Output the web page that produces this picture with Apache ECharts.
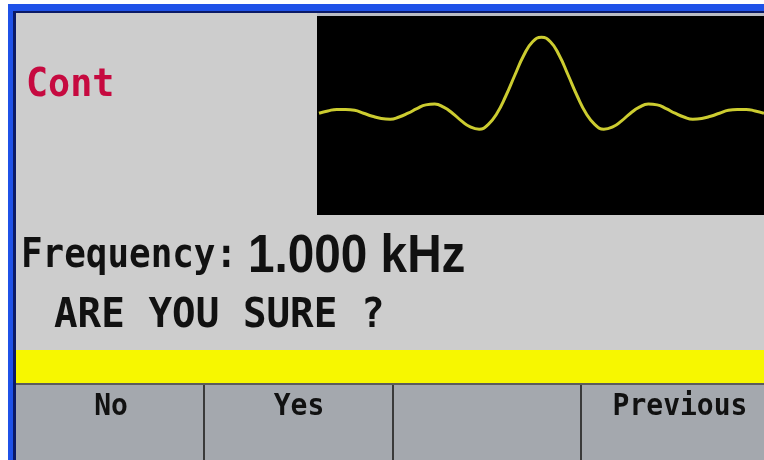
<!DOCTYPE html>
<html>
<head>
<meta charset="utf-8">
<script src="https://cdn.jsdelivr.net/npm/echarts@6/dist/echarts.min.js"></script>
<style>html,body{margin:0;padding:0;background:#fff}#c{width:764px;height:460px}</style>
</head>
<body>
<div id="c"></div>
<script>
// Waveform samples read from the scope display (time in arbitrary units, amplitude normalized)
const timeValues = [-5.0,-4.8,-4.6,-4.4,-4.2,-4.0,-3.8,-3.6,-3.4,-3.2,-3.0,-2.8,-2.6,-2.4,-2.2,-2.0,-1.8,-1.6,-1.4,-1.2,-1.0,-0.8,-0.6,-0.4,-0.2,0.0,0.2,0.4,0.6,0.8,1.0,1.2,1.4,1.6,1.8,2.0,2.2,2.4,2.6,2.8,3.0,3.2,3.4,3.6,3.8,4.0,4.2,4.4,4.6,4.8,5.0];
const amplitudeValues = [0.00,0.03,0.05,0.05,0.04,0.00,-0.04,-0.07,-0.08,-0.05,0.00,0.06,0.11,0.12,0.08,0.00,-0.10,-0.18,-0.21,-0.15,0.00,0.23,0.50,0.76,0.94,1.00,0.94,0.76,0.50,0.23,0.00,-0.15,-0.21,-0.18,-0.10,0.00,0.08,0.12,0.11,0.06,0.00,-0.05,-0.08,-0.07,-0.04,0.00,0.04,0.05,0.05,0.03,0.00];
const modeLabel = 'Cont';
const frequencyLabel = 'Frequency:';
const frequencyValue = '1.000 kHz';
const promptLabel = 'ARE YOU SURE ?';
const softkeyLabels = ['No', 'Yes', '', 'Previous'];
const softkeyCenters = [111, 299, 487, 680];

const MONO = '"DejaVu Sans Mono", monospace';
const chart = echarts.init(document.getElementById('c'), null, {renderer: 'canvas'});

function rect(x, y, w, h, fill, z) {
  return {type: 'rect', z: z || 0, shape: {x: x, y: y, width: w, height: h}, style: {fill: fill}, silent: true};
}
function txt(text, x, y, size, color, align, sy, font, weight, sx) {
  return {type: 'text', z: 5, x: x, y: y, scaleY: sy, scaleX: sx || 1,
    style: {text: text, x: 0, y: 0, fill: color, font: (weight || 'bold') + ' ' + size + 'px ' + (font || MONO),
      textAlign: align, textVerticalAlign: 'middle'}, silent: true};
}

const elements = [
  rect(8, 4, 756, 7, '#1f52e8'),
  rect(8, 11, 756, 2, '#0b1a66'),
  rect(8, 4, 5, 456, '#1f52e8'),
  rect(13, 11, 3, 449, '#0b1a66'),
  rect(16, 13, 748, 447, '#cdcdcd'),
  rect(317, 13, 447, 3, '#b9bcc4'),
  rect(317, 16, 447, 199, '#000000'),
  rect(16, 350, 748, 33, '#f7f700'),
  rect(16, 383, 748, 2, '#5c5c5c'),
  rect(16, 385, 748, 75, '#a4a8ae'),
  rect(203, 385, 2, 75, '#3a3a3a'),
  rect(392, 385, 2, 75, '#3a3a3a'),
  rect(580, 385, 2, 75, '#3a3a3a'),
  txt(modeLabel, 26, 86, 36, '#c60a40', 'left', 1.1, null, 'bold', 1.02),
  txt(frequencyLabel, 21, 256, 37, '#111111', 'left', 1.12, null, 'bold', 0.97),
  txt(frequencyValue, 248, 257, 53, '#111111', 'left', 1.0, '"Liberation Sans", Arial, sans-serif', 'bold', 0.9),
  txt(promptLabel, 54, 316, 37, '#111111', 'left', 1.12, null, 'bold', 1.06)
];
softkeyLabels.forEach(function (l, i) {
  if (l) elements.push(txt(l, softkeyCenters[i], 407, 28, '#111111', 'center', 1.08));
});

chart.setOption({
  animation: false,
  backgroundColor: '#ffffff',
  graphic: {elements: elements},
  grid: {left: 319, top: 16, width: 446, height: 199},
  xAxis: {type: 'value', min: -5, max: 5, show: false},
  yAxis: {type: 'value', min: -1.34, max: 1.28, show: false},
  series: [{
    type: 'line',
    data: timeValues.map(function (t, i) { return [t, amplitudeValues[i]]; }),
    smooth: true,
    symbol: 'none',
    z: 10,
    lineStyle: {color: '#cccc30', width: 3}
  }]
});
</script>
</body>
</html>
